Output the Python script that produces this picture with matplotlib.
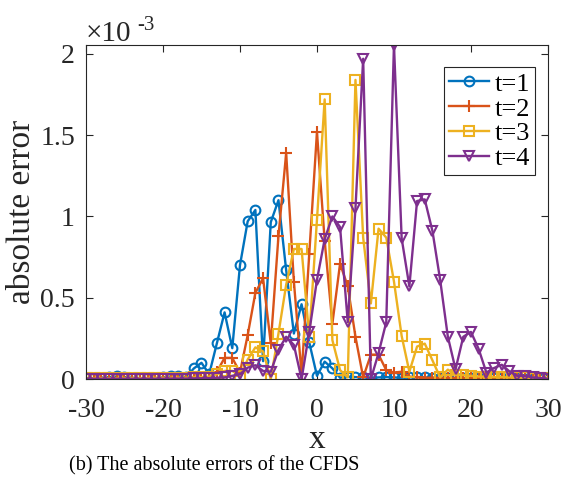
import numpy as np
import matplotlib; matplotlib.use('Agg')
import matplotlib.pyplot as plt

plt.rcParams['font.family'] = ['Liberation Serif', 'DejaVu Serif']
plt.rcParams['axes.unicode_minus'] = False

# grid points and absolute errors (in units of 1e-3)
x = np.arange(-30, 31)

err_t1 = [0.004, 0.006, 0.009, 0.012, 0.016, 0.012, 0.008, 0.005, 0.004, 0.006,
          0.010, 0.016, 0.020, 0.010, 0.065, 0.100, 0.030, 0.220, 0.410, 0.190,
          0.700, 0.970, 1.040, 0.110, 0.965, 1.100, 0.670, 0.280, 0.460, 0.225,
          0.020, 0.107, 0.066, 0.008, 0.015, 0.012, 0.010, 0.008, 0.010, 0.012,
          0.010, 0.008, 0.010, 0.012, 0.010, 0.008, 0.007, 0.006, 0.007, 0.006,
          0.005, 0.006, 0.005, 0.004, 0.005, 0.004, 0.004, 0.003, 0.003, 0.002, 0.002]

err_t2 = [0.003, 0.003, 0.004, 0.004, 0.005, 0.005, 0.004, 0.004, 0.005, 0.005,
          0.006, 0.006, 0.007, 0.008, 0.008, 0.010, 0.012, 0.045, 0.130, 0.130,
          0.040, 0.270, 0.530, 0.620, 0.220, 0.880, 1.390, 0.600, 0.030, 0.770,
          1.520, 0.850, 0.340, 0.710, 0.570, 0.260, 0.010, 0.150, 0.150, 0.055,
          0.040, 0.045, 0.015, 0.010, 0.008, 0.008, 0.008, 0.008, 0.007, 0.007,
          0.006, 0.006, 0.006, 0.005, 0.005, 0.005, 0.004, 0.004, 0.003, 0.003, 0.003]

err_t3 = [0.004, 0.004, 0.005, 0.005, 0.005, 0.006, 0.006, 0.006, 0.006, 0.007,
          0.007, 0.008, 0.008, 0.008, 0.010, 0.012, 0.015, 0.030, 0.050, 0.050,
          0.020, 0.120, 0.195, 0.170, 0.000, 0.280, 0.580, 0.800, 0.800, 0.260,
          0.980, 1.720, 0.240, 0.055, 0.010, 1.840, 0.870, 0.465, 0.925, 0.870,
          0.600, 0.265, 0.045, 0.200, 0.218, 0.115, 0.010, 0.058, 0.025, 0.025,
          0.020, 0.015, 0.015, 0.012, 0.012, 0.010, 0.010, 0.010, 0.008, 0.008, 0.006]

err_t4 = [0.002, 0.002, 0.002, 0.002, 0.002, 0.002, 0.002, 0.002, 0.002, 0.002,
          0.002, 0.003, 0.003, 0.003, 0.004, 0.005, 0.006, 0.008, 0.010, 0.020,
          0.030, 0.070, 0.085, 0.050, 0.045, 0.180, 0.260, 0.210, 0.000, 0.290,
          0.610, 0.860, 1.000, 0.935, 0.350, 1.050, 1.970, 0.000, 0.160, 0.350,
          2.055, 0.865, 0.570, 1.095, 1.105, 0.910, 0.610, 0.260, 0.060, 0.260,
          0.290, 0.185, 0.040, 0.068, 0.088, 0.047, 0.020, 0.020, 0.010, 0.006, 0.002]

labels  = ['t=1', 't=2', 't=3', 't=4']
colors  = ['#0072BD', '#D95319', '#EDB120', '#7E2F8E']
markers = ['o', '+', 's', 'v']

fig = plt.figure(figsize=(5.62, 4.78), dpi=100)
ax = fig.add_axes([0.153, 0.207, 0.822, 0.699])

for y, lab, c, m in zip([err_t1, err_t2, err_t3, err_t4], labels, colors, markers):
    ax.plot(x, y, color=c, marker=m, lw=1.7, ms=7 if m != '+' else 8,
            mfc='none', mew=1.5, label=lab)

ymax = max(max(err_t1), max(err_t2), max(err_t3), max(err_t4))
ax.set_xlim(-30, 30)
ax.set_ylim(0, ymax)
ax.set_xticks(np.arange(-30, 31, 10))
ax.set_yticks([0, 0.5, 1, 1.5, 2])
ax.set_yticklabels(['0', '0.5', '1', '1.5', '2'])
ax.tick_params(direction='in', top=True, right=True, length=5, width=0.8,
               labelsize=20, colors='0.15')
ax.tick_params(axis='x', pad=14)
ax.tick_params(axis='y', pad=8)
for sp in ax.spines.values():
    sp.set_color('0.15'); sp.set_linewidth(0.8)

ax.set_xlabel('x', fontsize=24, color='0.15', labelpad=1)
ax.set_ylabel('absolute error', fontsize=24, color='0.15', labelpad=2)
# exponent marker above the y axis (MATLAB style, hyphen minus)
ax.text(0.0, 0.995, '\u00d710', transform=ax.transAxes, fontsize=21,
        color='0.15', ha='left', va='bottom')
ax.text(0.11, 1.03, '-3', transform=ax.transAxes, fontsize=15,
        color='0.15', ha='left', va='bottom')

leg = ax.legend(loc='upper right', bbox_to_anchor=(0.972, 0.934), fontsize=19,
                handlelength=1.5, handletextpad=0.2, borderpad=0.2,
                labelspacing=0.05, fancybox=False, framealpha=1, borderaxespad=0)
leg.get_frame().set_edgecolor('0.15'); leg.get_frame().set_linewidth(0.8)

fig.text(0.122, 0.006, '(b) The absolute errors of the CFDS', fontsize=14.5,
         ha='left', va='bottom')

plt.savefig('out.png', dpi=100)
